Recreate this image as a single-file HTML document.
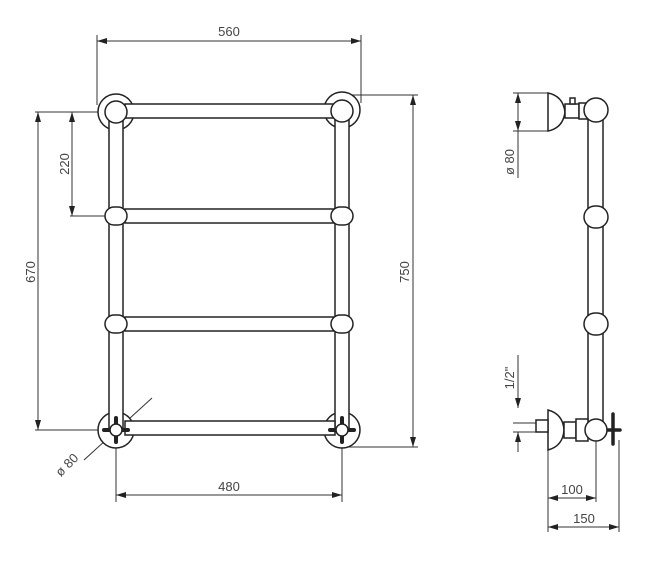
<!DOCTYPE html>
<html><head><meta charset="utf-8"><style>body{margin:0;background:#fff}svg{display:block}</style></head><body>
<svg width="655" height="564" viewBox="0 0 655 564" xmlns="http://www.w3.org/2000/svg" font-family="Liberation Sans, sans-serif">
<defs>
<marker id="a" viewBox="0 0 10 6" refX="10" refY="3" markerWidth="10" markerHeight="6" orient="auto-start-reverse" markerUnits="userSpaceOnUse"><path d="M0,0L10,3L0,6z" fill="#222"/></marker>
</defs>
<g stroke="#333" stroke-width="1" fill="none">
<path d="M97 35V105M361 35V103M35 112H104M35 430H102M70 112H104M70 216H106M345 95H418M345 447H418M116 440V502M342 440V502"/>
</g>
<g stroke="#333" stroke-width="1" fill="none" marker-start="url(#a)" marker-end="url(#a)">
<path d="M97 41H361"/><path d="M38 112V430"/><path d="M72 112V216"/><path d="M413 95V447"/><path d="M116 495H342"/>
<path d="M548 498H596"/><path d="M548 527H619"/>
</g>
<g stroke="#333" stroke-width="1" fill="none">
<path d="M518 93V131" marker-start="url(#a)" marker-end="url(#a)"/>
<path d="M518 131V178M513 93H548M513 131H548"/>
<path d="M518 355V408" marker-end="url(#a)"/><path d="M518 452V432" marker-end="url(#a)"/>
<path d="M513 423H547M513 432H547"/>
<path d="M548 450V532M596 436V502M619 440V532"/>
<path d="M84 460L152 398"/>
</g>
<g stroke="#222" stroke-width="1.5" fill="#fff">
<circle cx="116" cy="112" r="18"/><circle cx="342" cy="110" r="18"/>
<circle cx="116" cy="430" r="18"/><circle cx="342" cy="430" r="18"/>
<rect x="109" y="118" width="14" height="312"/><rect x="335" y="118" width="14" height="312"/>
<rect x="125" y="104" width="210" height="14"/>
<rect x="125" y="209" width="210" height="14"/>
<rect x="125" y="317" width="210" height="14"/>
<rect x="125" y="421" width="210" height="14"/>
<circle cx="116" cy="112" r="11"/><circle cx="342" cy="111" r="11"/>
<rect x="105" y="207" width="22" height="18" rx="9"/><rect x="331" y="207" width="22" height="18" rx="9"/>
<rect x="105" y="315" width="22" height="18" rx="9"/><rect x="331" y="315" width="22" height="18" rx="9"/>
<path d="M116 418v24M104 430h24" stroke-width="4" stroke-linecap="round"/>
<path d="M342 418v24M330 430h24" stroke-width="4" stroke-linecap="round"/>
<circle cx="116" cy="430" r="6"/><circle cx="342" cy="430" r="6"/>
<path d="M548 93 Q563 96 565 112 Q563 128 548 131Z"/>
<rect x="565" y="104" width="14" height="14"/><rect x="570" y="98" width="5" height="6"/>
<rect x="579" y="103" width="10" height="16"/>
<rect x="588" y="110" width="15" height="320"/>
<circle cx="596" cy="110" r="12"/>
<rect x="584" y="206" width="24" height="22" rx="11"/>
<rect x="584" y="313" width="24" height="22" rx="11"/>
<path d="M548 410 Q563 414 564 430 Q563 446 548 450Z"/>
<rect x="536" y="420" width="12" height="12"/>
<rect x="564" y="422" width="12" height="16"/><rect x="576" y="419" width="12" height="22"/>
<circle cx="596" cy="430" r="11"/>
<path d="M613 414v30M608 430h12" stroke-width="3.5" stroke-linecap="round"/>
</g>
<g fill="#444" font-size="13">
<text x="229" y="36" text-anchor="middle">560</text>
<text x="229" y="491" text-anchor="middle">480</text>
<text x="572" y="494" text-anchor="middle">100</text>
<text x="584" y="523" text-anchor="middle">150</text>
<text transform="translate(69,164) rotate(-90)" text-anchor="middle">220</text>
<text transform="translate(35,272) rotate(-90)" text-anchor="middle">670</text>
<text transform="translate(409,272) rotate(-90)" text-anchor="middle">750</text>
<text transform="translate(514,162) rotate(-90)" text-anchor="middle">ø 80</text>
<text transform="translate(514,378) rotate(-90)" text-anchor="middle">1/2"</text>
<text transform="translate(70,468) rotate(-45)" text-anchor="middle">ø 80</text>
</g>
</svg>
</body></html>
